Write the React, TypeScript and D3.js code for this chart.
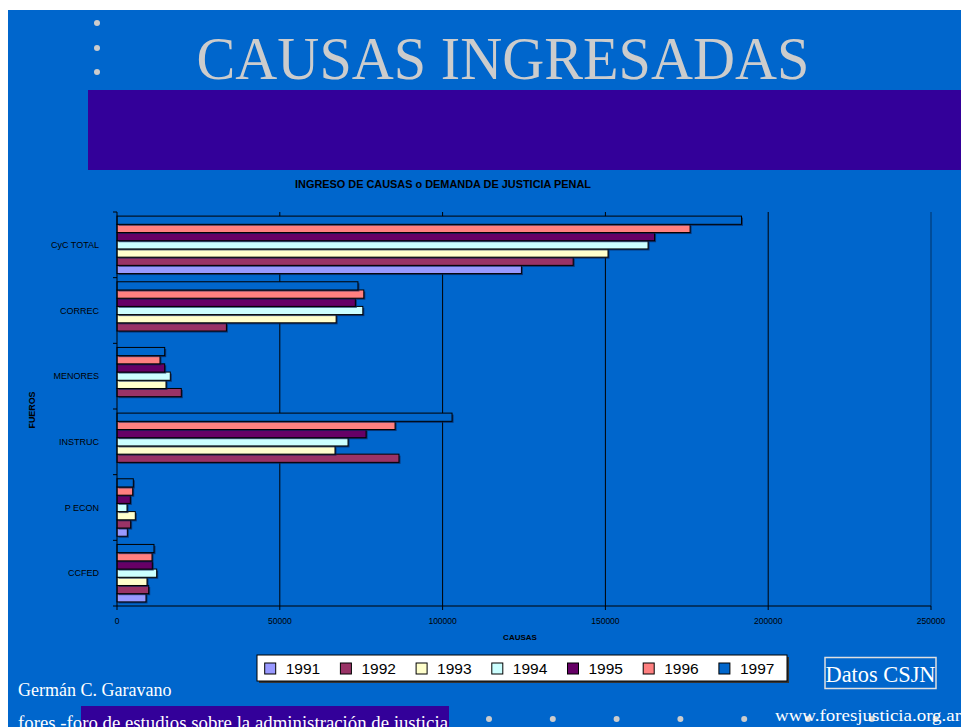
import React from 'react';
import * as d3 from 'd3';

// categories (fueros), top to bottom
const fueros = ['CyC TOTAL', 'CORREC', 'MENORES', 'INSTRUC', 'P ECON', 'CCFED'];
const years = ['1991', '1992', '1993', '1994', '1995', '1996', '1997'];
const yearColors = ['#9999ff', '#993366', '#ffffcc', '#ccffff', '#660066', '#ff8080', '#0066cc'];

// values per year, in the order of fueros (null = no data)
const v1991 = [124200, null, null, null, 3170, 8900];
const v1992 = [140100, 33600, 19750, 86600, 4200, 9730];
const v1993 = [150800, 67300, 15050, 66950, 5620, 9210];
const v1994 = [163100, 75500, 16370, 70950, 3070, 12190];
const v1995 = [165100, 73200, 14650, 76500, 4090, 10840];
const v1996 = [176000, 75800, 13200, 85400, 4820, 10750];
const v1997 = [191800, 74000, 14650, 102900, 5010, 11360];
const seriesValues = [v1991, v1992, v1993, v1994, v1995, v1996, v1997];

const xTicks = [0, 50000, 100000, 150000, 200000, 250000];

const W = 961;
const H = 727;
const BG = '#0066cc';
const PURPLE = '#330099';
const GREY = '#cccccc';

function App() {
  const x = d3.scaleLinear().domain([0, 250000]).range([117, 931]);
  const y = d3.scaleBand().domain(fueros).range([212, 606]);
  // 1997 at the top of each group, 1991 at the bottom
  const yInner = d3.scaleBand()
    .domain(years.slice().reverse())
    .range([0, y.bandwidth()])
    .paddingInner(0)
    .paddingOuter(0.5);

  const bars: { f: string; yr: string; val: number; color: string }[] = [];
  years.forEach((yr, i) => {
    seriesValues[i].forEach((val, j) => {
      if (val != null) bars.push({ f: fueros[j], yr, val, color: yearColors[i] });
    });
  });

  const boundaries = fueros.map(f => y(f)!).concat([606]);
  const legendStep = 75.7;
  const dotsX = d3.range(8).map(i => 489 + i * 63.8);

  return (
    <svg width={W} height={H} style={{ position: 'absolute', left: 0, top: 0 }}>
      <rect x={0} y={0} width={W} height={H} fill="#ffffff" />
      <rect x={8} y={10} width={W - 8} height={H - 10} fill={BG} />

      {/* top bullets */}
      {[23, 48, 72].map(cy => <circle key={cy} cx={97} cy={cy} r={3} fill={GREY} />)}
      <text x={503} y={79} textAnchor="middle" fontFamily="'Liberation Serif', 'Times New Roman', serif"
        fontSize={62} fill={GREY} textLength={613} lengthAdjust="spacingAndGlyphs">CAUSAS INGRESADAS</text>
      <rect x={88} y={90} width={W - 88} height={80} fill={PURPLE} />

      {/* chart title */}
      <text x={443} y={188} textAnchor="middle" fontFamily="'Liberation Sans', Arial, sans-serif"
        fontWeight="bold" fontSize={10.5} fill="#000" textLength={296}
        lengthAdjust="spacingAndGlyphs">INGRESO DE CAUSAS o DEMANDA DE JUSTICIA PENAL</text>

      {/* gridlines */}
      {xTicks.slice(1).map(t => (
        <line key={t} x1={x(t)} x2={x(t)} y1={212} y2={606}
          stroke={t === 250000 ? '#003366' : '#000'} strokeWidth={1} />
      ))}

      {/* bars */}
      {bars.map((b, i) => {
        const by = y(b.f)! + yInner(b.yr)!;
        const w = x(b.val) - x(0);
        return (
          <g key={i}>
            <rect x={x(0) + 1.5} y={by + 1.5} width={w} height={yInner.bandwidth()} fill="#0a1e50" opacity={0.7} />
            <rect x={x(0)} y={by} width={w} height={yInner.bandwidth()} fill={b.color} stroke="#000" strokeWidth={1} />
          </g>
        );
      })}

      {/* axes */}
      <line x1={117} x2={117} y1={212} y2={606} stroke="#000" />
      <line x1={117} x2={931} y1={606} y2={606} stroke="#000" />
      {boundaries.map((b, i) => <line key={i} x1={113} x2={117} y1={b} y2={b} stroke="#000" />)}
      {xTicks.map(t => <line key={t} x1={x(t)} x2={x(t)} y1={606} y2={610} stroke="#000" />)}
      {xTicks.map(t => (
        <text key={t} x={x(t)} y={624} textAnchor="middle" fontFamily="'Liberation Sans', Arial, sans-serif"
          fontSize={8.5} fill="#000">{t}</text>
      ))}
      {fueros.map(f => (
        <text key={f} x={99} y={y(f)! + y.bandwidth() / 2 + 3} textAnchor="end"
          fontFamily="'Liberation Sans', Arial, sans-serif" fontSize={9} fill="#000">{f}</text>
      ))}
      <text x={520} y={640} textAnchor="middle" fontFamily="'Liberation Sans', Arial, sans-serif"
        fontWeight="bold" fontSize={8} fill="#000">CAUSAS</text>
      <text transform="translate(35,410) rotate(-90)" textAnchor="middle"
        fontFamily="'Liberation Sans', Arial, sans-serif" fontWeight="bold" fontSize={8.5} fill="#000"
        textLength={37} lengthAdjust="spacingAndGlyphs">FUEROS</text>

      {/* legend */}
      <rect x={259} y={657} width={530} height={26} fill="#333" />
      <rect x={257} y={655} width={530} height={26} fill="#fff" stroke="#000" strokeWidth={1} />
      {years.map((yr, i) => (
        <g key={yr} transform={`translate(${264.7 + i * legendStep},0)`}>
          <rect x={0} y={663} width={11} height={11} fill={yearColors[i]} stroke="#000" strokeWidth={1} />
          <text x={21} y={674} fontFamily="'Liberation Sans', Arial, sans-serif" fontSize={15.5} fill="#000">{yr}</text>
        </g>
      ))}

      {/* Datos CSJN box */}
      <rect x={825} y={657.5} width={111} height={31} fill="none" stroke="#e0e0e0" strokeWidth={1.5} />
      <text x={880.5} y={682} textAnchor="middle" fontFamily="'Liberation Serif', 'Times New Roman', serif"
        fontSize={23} fill="#fff" textLength={110} lengthAdjust="spacingAndGlyphs">Datos CSJN</text>

      {/* footer */}
      <text x={18} y={696} fontFamily="'Liberation Serif', 'Times New Roman', serif" fontSize={18} fill="#fff">Germán C. Garavano</text>
      <rect x={81} y={706} width={368} height={21} fill={PURPLE} />
      <text x={18} y={729} fontFamily="'Liberation Serif', 'Times New Roman', serif" fontSize={18} fill="#fff"
        textLength={430} lengthAdjust="spacingAndGlyphs">fores -foro de estudios sobre la administración de justicia</text>
      {dotsX.map(cx => <circle key={cx} cx={cx} cy={719} r={3} fill={GREY} />)}
      <text x={775} y={721} fontFamily="'Liberation Serif', 'Times New Roman', serif" fontSize={17} fill="#fff"
        textLength={186} lengthAdjust="spacingAndGlyphs">www.foresjusticia.org.ar</text>
    </svg>
  );
}

export default App;
